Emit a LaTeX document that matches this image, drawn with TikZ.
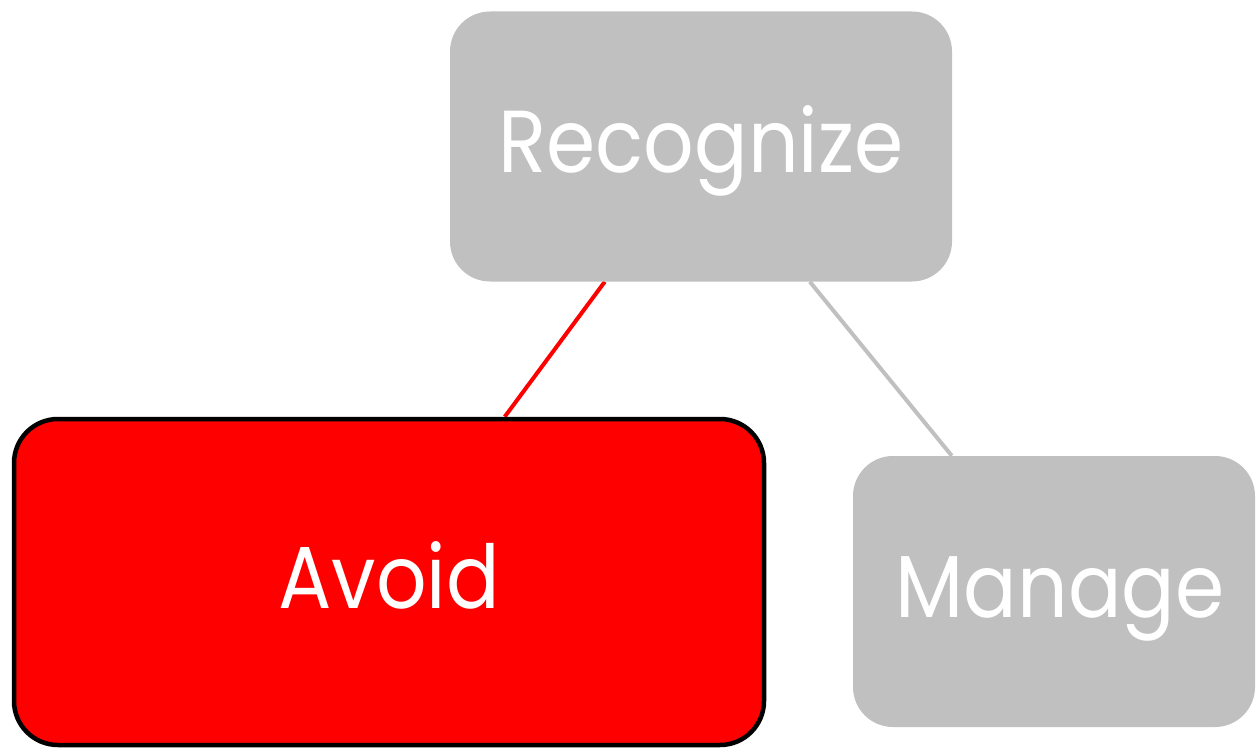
\documentclass[tikz,border=0pt]{standalone}
\usepackage{fontspec}
\setmainfont{Poppins}
\usetikzlibrary{backgrounds}
\definecolor{boxgray}{HTML}{C0C0C0}
\definecolor{boxred}{HTML}{FF0000}
\newcommand{\sqz}[1]{\scalebox{0.9}[1]{#1}}
\tikzset{
  lbl/.style={text=white, font=\fontsize{88}{90}\selectfont, text height=62pt, text depth=10pt, inner sep=0pt},
  graybox/.style={lbl, fill=boxgray, draw=none, rounded corners=40pt},
  redbox/.style={lbl, fill=boxred, draw=black, line width=4.5pt, rounded corners=44pt},
  conn/.style={line width=4pt},
}
\begin{document}
\begin{tikzpicture}[x=1pt,y=-1pt]
\useasboundingbox (0,0) rectangle (1256,749);
\node[graybox, minimum width=502pt, minimum height=270pt] (rec) at (701,146.5) {\sqz{Recognize}};
\node[redbox, minimum width=750pt, minimum height=326pt] (avoid) at (389,582) {\sqz{Avoid}};
\node[graybox, minimum width=402pt, minimum height=271pt] (man) at (1054,591.5) {\hspace*{12pt}\sqz{Manage}};
\begin{scope}[on background layer]
\draw[conn, draw=boxred] ([xshift=155pt]rec.south west) -- ([xshift=493pt]avoid.north west);
\draw[conn, draw=boxgray] ([xshift=360pt]rec.south west) -- ([xshift=99pt]man.north west);
\end{scope}
\end{tikzpicture}
\end{document}
